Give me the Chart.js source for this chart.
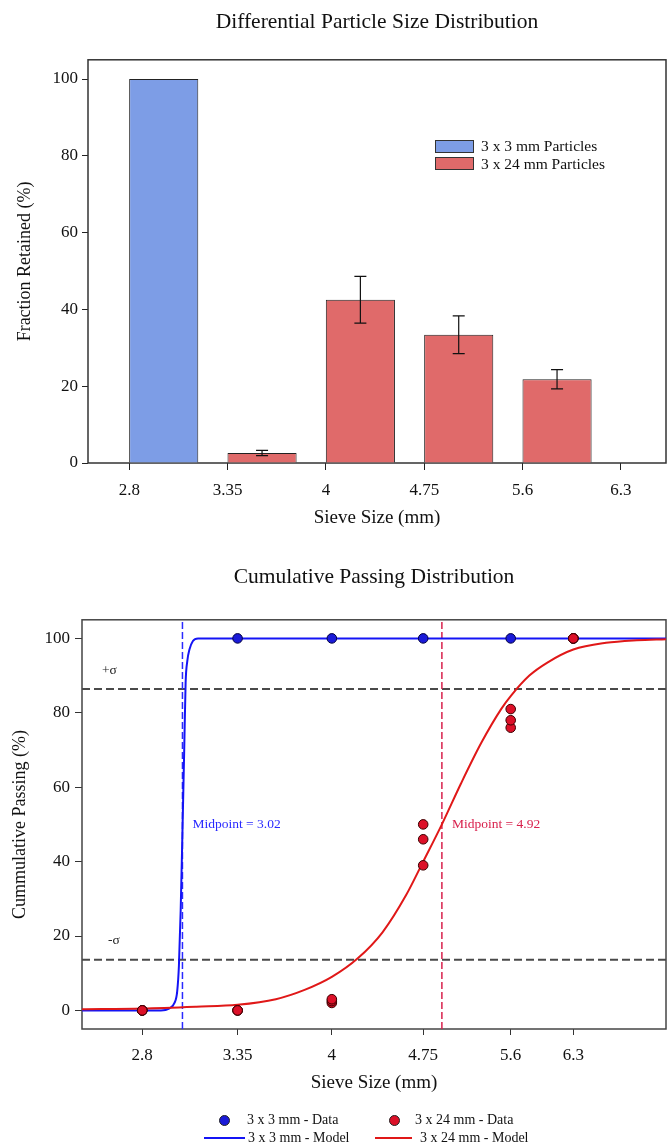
<!DOCTYPE html>
<html>
<head>
<meta charset="utf-8">
<title>Particle Size Distribution</title>
<script src="https://cdn.jsdelivr.net/npm/chart.js@4.4.1/dist/chart.umd.min.js"></script>
<style>
  html, body { margin: 0; padding: 0; background: #fff; }
  body { width: 668px; height: 1146px; position: relative; overflow: hidden;
         font-family: 'Liberation Serif', 'Times New Roman', serif; color: #111; }
  canvas { position: absolute; left: 0; }
  #diffChart { top: 0; }
  #cumChart { top: 545px; }
  .item { position: absolute; height: 18px; display: flex; align-items: center; white-space: nowrap; z-index: 2; }
  .box { width: 37px; height: 11px; border: 1px solid #333; margin-right: 7px; }
  .dot { width: 9px; height: 9px; border-radius: 50%; border: 1px solid #222; }
  .line { height: 2px; }
</style>
</head>
<body>
<canvas id="diffChart" width="668" height="545"></canvas>
<canvas id="cumChart" width="668" height="601"></canvas>
<div id="legends"></div>
<script>
// ---- data: differential distribution (fraction retained, %) ----
const sieveLabels = ['2.8', '3.35', '4', '4.75', '5.6', '6.3'];
const retainedSmall = [100, null, null, null, null];      // 3 x 3 mm
const retainedLarge = [null, 2.6, 42.5, 33.4, 21.8];     // 3 x 24 mm
const retainedLargeErr = [null, 0.7, 6.1, 4.9, 2.5];
const retainedTicks = [0, 20, 40, 60, 80, 100];

// ---- data: cumulative passing (%) ----
const sieveSizes = [2.8, 3.35, 4, 4.75, 5.6, 6.3];
const passingSmall = [0, 100, 100, 100, 100, 100];
const passingLarge = [[0, 0, 0], [0, 0, 0], [2, 2.5, 3], [39, 46, 50], [76, 78, 81], [100, 100, 100]];
const modelSmallX = [2.5, 2.9, 2.945, 2.975, 2.99, 3.0, 3.01, 3.02, 3.03, 3.038, 3.048, 3.06, 3.08, 3.11, 7.5];
const modelSmallY = [0, 0, 0.5, 2, 5, 12, 27, 48, 70, 88, 94, 97, 99.3, 100, 100];
const modelLargeX = [2.5, 2.8, 3.1, 3.35, 3.6, 3.8, 4.0, 4.2, 4.4, 4.6, 4.75, 4.92, 5.1, 5.3, 5.5, 5.6, 5.8, 6.0, 6.3, 6.7, 7.1, 7.5];
const modelLargeY = [0.3, 0.5, 1.0, 1.5, 3.0, 5.5, 9.0, 14, 21, 31, 40, 50, 61, 72, 81, 84.5, 90, 93.5, 97, 98.8, 99.5, 99.8];
const midpoints = [3.02, 4.92];
const sigmaLevels = [86.4, 13.6];
const passingTicks = [0, 20, 40, 60, 80, 100];

const BLUE_BAR = '#7d9de6', RED_BAR = '#e06a6a';
const BLUE = '#1414f5', RED = '#e01818';
const BLUE_DOT = '#1a1ad8', RED_DOT = '#dc1028';
const MID_COLORS = ['#2a2aff', '#d8204c'];

Chart.defaults.font.family = "'Liberation Serif', 'Times New Roman', serif";
Chart.defaults.color = '#111';

const framePlugin = {
  id: 'frame',
  beforeDatasetsDraw(chart, args, opts) {
    const { ctx, chartArea: a } = chart;
    ctx.save();
    ctx.strokeStyle = opts.color || '#333';
    ctx.lineWidth = opts.width || 1.5;
    ctx.strokeRect(a.left, a.top, a.right - a.left, a.bottom - a.top);
    ctx.restore();
  }
};

const errorBarPlugin = {
  id: 'errorBars',
  afterDatasetsDraw(chart) {
    const ctx = chart.ctx, y = chart.scales.y;
    chart.data.datasets.forEach((ds, di) => {
      chart.getDatasetMeta(di).data.forEach((bar, i) => {
        const p = ds.data[i];
        if (p.err == null) return;
        const top = y.getPixelForValue(p.y + p.err);
        const bot = y.getPixelForValue(p.y - p.err);
        ctx.save();
        ctx.strokeStyle = '#111';
        ctx.lineWidth = 1.2;
        ctx.beginPath();
        ctx.moveTo(bar.x, top); ctx.lineTo(bar.x, bot);
        ctx.moveTo(bar.x - 6, top); ctx.lineTo(bar.x + 6, top);
        ctx.moveTo(bar.x - 6, bot); ctx.lineTo(bar.x + 6, bot);
        ctx.stroke();
        ctx.restore();
      });
    });
  }
};

// bars sit between a sieve and the next one
function binData(values, errs) {
  const out = [];
  values.forEach((v, i) => {
    if (v != null) out.push({ x: i + 0.35, y: v, err: errs ? errs[i] : null });
  });
  return out;
}

const noSidePadding = s => { s.paddingLeft = 0; s.paddingRight = 0; };

new Chart(document.getElementById('diffChart'), {
  type: 'bar',
  data: {
    datasets: [
      { label: '3 x 3 mm Particles', data: binData(retainedSmall), backgroundColor: BLUE_BAR,
        borderColor: '#222', borderWidth: 1, grouped: false, barPercentage: 0.703, categoryPercentage: 1 },
      { label: '3 x 24 mm Particles', data: binData(retainedLarge, retainedLargeErr), backgroundColor: RED_BAR,
        borderColor: '#222', borderWidth: 1, grouped: false, barPercentage: 0.703, categoryPercentage: 1 }
    ]
  },
  options: {
    responsive: false,
    animation: false,
    layout: { padding: { right: 2 } },
    plugins: {
      legend: { display: false },
      tooltip: { enabled: false },
      frame: { color: '#333', width: 1.5 },
      title: { display: true, text: 'Differential Particle Size Distribution', fullSize: false,
               font: { size: 21.5, weight: 'normal' }, color: '#111', padding: { top: 9, bottom: 25 } }
    },
    scales: {
      x: {
        type: 'linear', min: -0.42, max: 5.458, offset: false,
        afterBuildTicks: s => { s.ticks = sieveLabels.map((_, i) => ({ value: i })); },
        afterFit: s => { s.height = 82; noSidePadding(s); },
        ticks: { callback: v => sieveLabels[v], font: { size: 17 }, padding: 10, autoSkip: false, maxRotation: 0 },
        grid: { drawOnChartArea: false, offset: false, tickLength: 7, color: '#222' },
        border: { display: false },
        title: { display: true, text: 'Sieve Size (mm)', font: { size: 19 }, padding: { bottom: 16 } }
      },
      y: {
        min: 0, max: 105,
        afterBuildTicks: s => { s.ticks = retainedTicks.map(v => ({ value: v })); },
        afterFit: s => { s.width = 88; },
        ticks: { font: { size: 17 }, padding: 4 },
        grid: { drawOnChartArea: false, tickLength: 6, color: '#222' },
        border: { display: false },
        title: { display: true, text: 'Fraction Retained (%)', font: { size: 18 }, padding: { top: 14 } }
      }
    }
  },
  plugins: [framePlugin, errorBarPlugin]
});

// ---- cumulative chart ----
const X_MIN = 2.5, X_MAX = 7.5;
const pts = (xs, ys) => xs.map((x, i) => ({ x, y: ys[i] }));
const largePoints = [];
passingLarge.forEach((reps, i) => reps.forEach(v => largePoints.push({ x: sieveSizes[i], y: v })));

const labelPlugin = {
  id: 'cumLabels',
  afterDatasetsDraw(chart) {
    const { ctx, scales: { x, y }, chartArea: a } = chart;
    ctx.save();
    ctx.textBaseline = 'middle';
    ctx.font = "13.5px 'Liberation Serif'";
    ctx.fillStyle = '#222';
    ctx.fillText('+\u03c3', a.left + 20, y.getPixelForValue(sigmaLevels[0]) - 19);
    ctx.fillText('-\u03c3', a.left + 26, y.getPixelForValue(sigmaLevels[1]) - 19);
    midpoints.forEach((m, i) => {
      ctx.fillStyle = MID_COLORS[i];
      ctx.fillText('Midpoint = ' + m.toFixed(2), x.getPixelForValue(m) + 10, y.getPixelForValue(50));
    });
    ctx.restore();
  }
};

const dashed = (data, color, width, dash, order) => ({
  data, showLine: true, pointRadius: 0, borderColor: color, borderWidth: width, borderDash: dash, order
});

new Chart(document.getElementById('cumChart'), {
  type: 'scatter',
  data: {
    datasets: [
      { label: '3 x 24 mm - Data', data: largePoints, pointRadius: 4.8, pointBackgroundColor: RED_DOT,
        pointBorderColor: '#3a0000', pointBorderWidth: 1, order: 0 },
      { label: '3 x 3 mm - Data', data: pts(sieveSizes, passingSmall), pointRadius: 4.8, pointBackgroundColor: BLUE_DOT,
        pointBorderColor: '#000040', pointBorderWidth: 1, order: 1 },
      { label: '3 x 24 mm - Model', data: pts(modelLargeX, modelLargeY), showLine: true, pointRadius: 0,
        borderColor: RED, borderWidth: 2, cubicInterpolationMode: 'monotone', order: 2 },
      { label: '3 x 3 mm - Model', data: pts(modelSmallX, modelSmallY), showLine: true, pointRadius: 0,
        borderColor: BLUE, borderWidth: 2, cubicInterpolationMode: 'monotone', order: 3 },
      dashed([{ x: midpoints[0], y: -5 }, { x: midpoints[0], y: 105 }], MID_COLORS[0], 1.5, [7, 3], 4),
      dashed([{ x: midpoints[1], y: -5 }, { x: midpoints[1], y: 105 }], MID_COLORS[1], 1.5, [7, 3], 5),
      dashed([{ x: X_MIN, y: sigmaLevels[0] }, { x: X_MAX, y: sigmaLevels[0] }], '#4a4a4a', 2, [8, 4], 6),
      dashed([{ x: X_MIN, y: sigmaLevels[1] }, { x: X_MAX, y: sigmaLevels[1] }], '#4a4a4a', 2, [8, 4], 7)
    ]
  },
  options: {
    responsive: false,
    animation: false,
    layout: { autoPadding: false, padding: { right: 2 } },
    plugins: {
      legend: { display: false },
      tooltip: { enabled: false },
      frame: { color: '#444', width: 1.5 },
      title: { display: true, text: 'Cumulative Passing Distribution', fullSize: false,
               font: { size: 21.5, weight: 'normal' }, color: '#111', padding: { top: 19, bottom: 30 } }
    },
    scales: {
      x: {
        type: 'logarithmic', min: X_MIN, max: X_MAX,
        afterBuildTicks: s => { s.ticks = sieveSizes.map(v => ({ value: v })); },
        afterFit: s => { s.height = 117; noSidePadding(s); },
        ticks: { callback: v => String(v), font: { size: 17 }, padding: 10, autoSkip: false, maxRotation: 0 },
        grid: { drawOnChartArea: false, tickLength: 6, color: '#333' },
        border: { display: false },
        title: { display: true, text: 'Sieve Size (mm)', font: { size: 19 }, padding: { bottom: 52 } }
      },
      y: {
        min: -5, max: 105,
        afterBuildTicks: s => { s.ticks = passingTicks.map(v => ({ value: v })); },
        afterFit: s => { s.width = 82; },
        ticks: { font: { size: 17 }, padding: 5 },
        grid: { drawOnChartArea: false, tickLength: 7, color: '#333' },
        border: { display: false },
        title: { display: true, text: 'Cummulative Passing (%)', font: { size: 18 }, padding: { top: 9 } }
      }
    }
  },
  plugins: [framePlugin, labelPlugin]
});

// ---- legends (html) ----
const legendItems = [
  { text: '3 x 3 mm Particles', kind: 'box', color: BLUE_BAR, left: 435, cy: 146, size: 15.5 },
  { text: '3 x 24 mm Particles', kind: 'box', color: RED_BAR, left: 435, cy: 163.5, size: 15.5 },
  { text: '3 x 3 mm - Data', kind: 'dot', color: BLUE_DOT, left: 219, cy: 1120, size: 14, gap: 17 },
  { text: '3 x 24 mm - Data', kind: 'dot', color: RED_DOT, left: 389, cy: 1120, size: 14, gap: 15 },
  { text: '3 x 3 mm - Model', kind: 'line', color: BLUE, left: 204, cy: 1138, size: 14, w: 41, gap: 3 },
  { text: '3 x 24 mm - Model', kind: 'line', color: RED, left: 375, cy: 1138, size: 14, w: 37, gap: 8 }
];
const host = document.getElementById('legends');
legendItems.forEach(it => {
  const row = document.createElement('div');
  row.className = 'item';
  row.style.left = it.left + 'px';
  row.style.top = (it.cy - 9) + 'px';
  row.style.fontSize = it.size + 'px';
  const mark = document.createElement('span');
  mark.className = it.kind;
  mark.style.background = it.color;
  if (it.kind === 'line') mark.style.width = it.w + 'px';
  if (it.gap != null) mark.style.marginRight = it.gap + 'px';
  row.appendChild(mark);
  row.appendChild(document.createTextNode(it.text));
  host.appendChild(row);
});
</script>
</body>
</html>
